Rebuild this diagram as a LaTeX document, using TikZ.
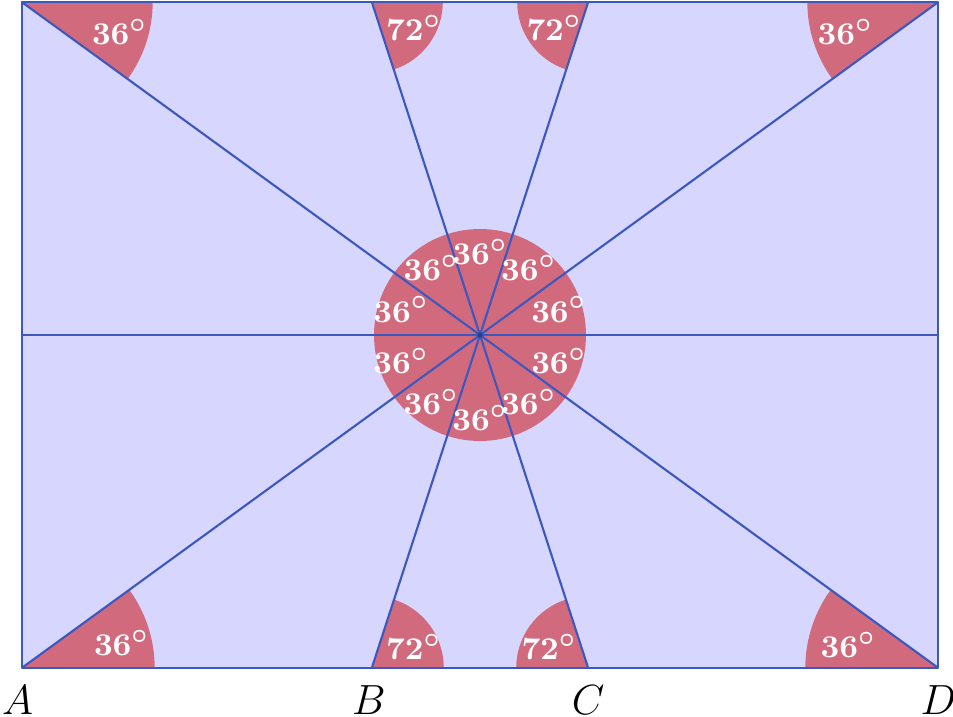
\documentclass[tikz,border=0pt]{standalone}
\usepackage{amsmath, amssymb}
\definecolor{paperblue}{RGB}{214,214,255}
\definecolor{wedgered}{RGB}{210,106,126}
\definecolor{rayblue}{RGB}{60,88,190}
\tikzset{
  ray/.style={draw=rayblue, line width=0.6pt},
  ang/.style={text=white, inner sep=0pt, font=\fontsize{9.3}{11}\selectfont\boldmath},
  pt/.style={inner sep=0pt, font=\fontsize{11.5}{13}\selectfont}
}
\begin{document}
\begin{tikzpicture}[line join=round]
  \useasboundingbox (-4.80,-3.81) rectangle (4.73,3.35);
  \def\h{3.33}
  \def\w{4.583}
  \coordinate (O) at (0,0);
  \coordinate (A) at (-\w,-\h);
  \coordinate (B) at ({-\h*tan(18)},-\h);
  \coordinate (C) at ({\h*tan(18)},-\h);
  \coordinate (D) at (\w,-\h);
  \coordinate (TA) at (-\w,\h);
  \coordinate (TB) at ({-\h*tan(18)},\h);
  \coordinate (TC) at ({\h*tan(18)},\h);
  \coordinate (TD) at (\w,\h);
  \coordinate (L) at (-\w,0);
  \coordinate (R) at (\w,0);
  % background and wedges
  \fill[paperblue] (A) rectangle (TD);
  \fill[wedgered] (O) circle [radius=1.06];
  \fill[wedgered] (A) -- ++(0:1.33) arc (0:36:1.33) -- cycle;
  \fill[wedgered] (B) -- ++(0:0.72) arc (0:72:0.72) -- cycle;
  \fill[wedgered] (C) -- ++(108:0.72) arc (108:180:0.72) -- cycle;
  \fill[wedgered] (D) -- ++(144:1.33) arc (144:180:1.33) -- cycle;
  \fill[wedgered] (TA) -- ++(0:1.31) arc (0:-36:1.31) -- cycle;
  \fill[wedgered] (TB) -- ++(0:0.71) arc (0:-72:0.71) -- cycle;
  \fill[wedgered] (TC) -- ++(180:0.71) arc (180:252:0.71) -- cycle;
  \fill[wedgered] (TD) -- ++(180:1.31) arc (180:216:1.31) -- cycle;
  % rays
  \foreach \p in {A,B,C,D,TA,TB,TC,TD,L,R}
    \draw[ray] (O) -- (\p);
  \draw[ray] (A) rectangle (TD);
  \fill[rayblue!70!black] (O) circle [radius=0.025];
  % angle labels
  \foreach \a in {18,54,...,342}
    \node[ang] (c\a) at (\a:0.83) {$36^\circ$};
  \node[ang] (aA) at ([shift={(1.00,0.25)}]A) {$36^\circ$};
  \node[ang] (aB) at ([shift={(0.42,0.21)}]B) {$72^\circ$};
  \node[ang] (aC) at ([shift={(-0.39,0.21)}]C) {$72^\circ$};
  \node[ang] (aD) at ([shift={(-0.90,0.23)}]D) {$36^\circ$};
  \node[ang] (aTA) at ([shift={(0.98,-0.30)}]TA) {$36^\circ$};
  \node[ang] (aTB) at ([shift={(0.42,-0.26)}]TB) {$72^\circ$};
  \node[ang] (aTC) at ([shift={(-0.34,-0.26)}]TC) {$72^\circ$};
  \node[ang] (aTD) at ([shift={(-0.93,-0.30)}]TD) {$36^\circ$};
  % point labels
  \node[pt] (lA) at ([shift={(-0.04,-0.32)}]A) {$A$};
  \node[pt] (lB) at ([shift={(-0.03,-0.32)}]B) {$B$};
  \node[pt] (lC) at ([shift={(0,-0.32)}]C) {$C$};
  \node[pt] (lD) at ([shift={(0,-0.32)}]D) {$D$};
\end{tikzpicture}
\end{document}
